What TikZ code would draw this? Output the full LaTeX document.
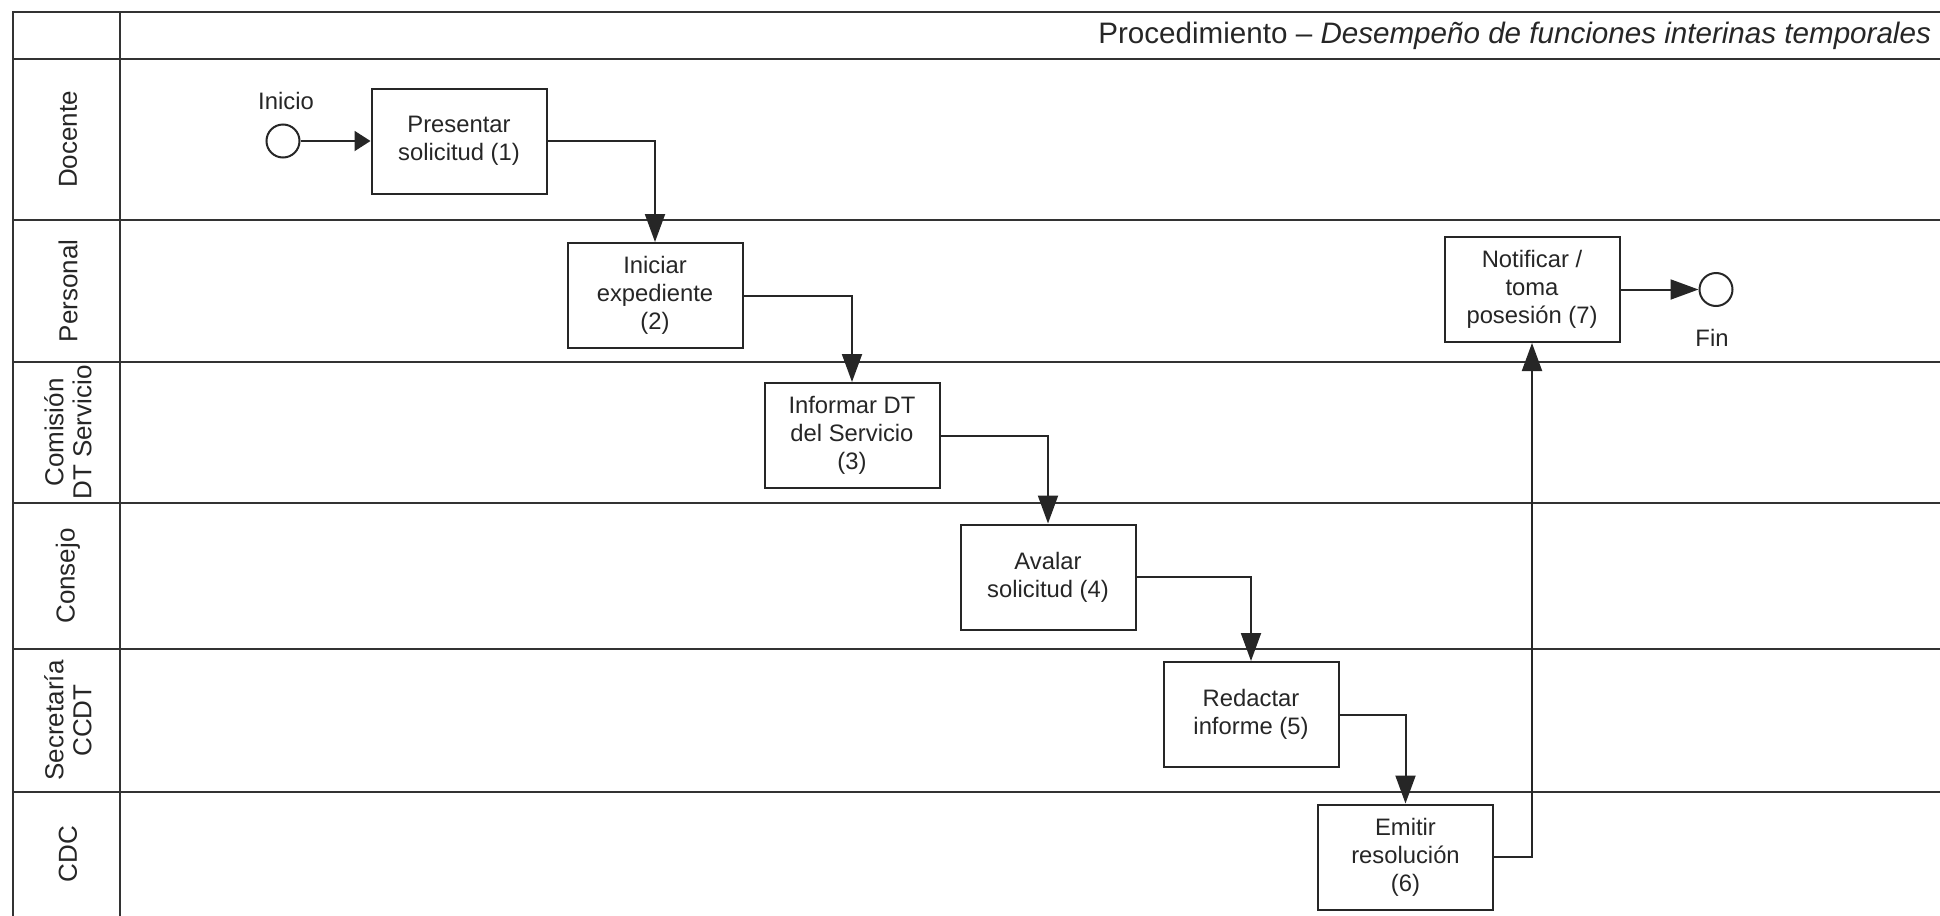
\documentclass[tikz,border=0pt]{standalone}
\usepackage{fontspec}
\setmainfont{Liberation Sans}
\usetikzlibrary{positioning,arrows.meta}

\tikzset{
  lane/.style={draw=black!80, line width=1pt},
  task/.style={draw=black!85, line width=1pt, rectangle, minimum width=87.5pt,
    minimum height=52.5pt, align=center, inner sep=0pt},
  event/.style={draw=black!85, line width=1pt, circle, minimum size=16.5pt, inner sep=0pt},
  flow/.style={draw=black!85, line width=1pt, -{Triangle[length=14pt,width=10pt]}},
  lanelbl/.style={rotate=90, align=center, font=\fontsize{13}{14}\selectfont},
}

\begin{document}
\begin{tikzpicture}[x=0.5pt, y=-0.5pt, text=black!85, font=\fontsize{11.9}{14}\selectfont]
    \useasboundingbox (0,0) rectangle (1940,916);
    \clip (0,0) rectangle (1940,916);
      % Pool and lanes
      \draw[lane] (1950,12) -- (13,12) -- (13,930);
      \draw[lane] (120,12) -- (120,930);
      \draw[lane, line width=1.3pt] (13,59) -- (1950,59);
      \foreach \y in {220,362,503,649,792}
        \draw[lane] (13,\y) -- (1950,\y);
      \node[anchor=east, font=\fontsize{14.8}{17}\selectfont] (titulo) at (1938,35.5)
        {Procedimiento – \textit{Desempeño de funciones interinas temporales}};
      \foreach \ymid/\txt [count=\i] in {139.5/Docente, 291/Personal,
          432.5/{Comisión\\DT Servicio}, 576/Consejo, 720.5/{Secretaría\\CCDT}, 854/CDC}
        \node[lanelbl] (carril\i) at (68,\ymid) {\txt};
      % Define nodes
      \node[task]                 (presentar) at (459,141)    {Presentar\\solicitud (1)};
      \node[event, left=35pt of presentar] (inicio) {};
      \node                       (txtinicio) at (286,101)    {Inicio};
      \node[task]                 (iniciar)   at (655,295.5)  {Iniciar\\expediente\\(2)};
      \node[task]                 (informar)  at (852,435.5)  {Informar DT\\del Servicio\\(3)};
      \node[task]                 (avalar)    at (1048,577)   {Avalar\\solicitud (4)};
      \node[task]                 (redactar)  at (1251,714.5) {Redactar\\informe (5)};
      \node[task]                 (emitir)    at (1405.5,857) {Emitir\\resolución\\(6)};
      \node[task]                 (notificar) at (1532,289.5) {Notificar /\\toma\\posesión (7)};
      \node[event, right=39pt of notificar] (fin) {};
      \node                       (txtfin)    at (1712,338)   {Fin};
      % Connect nodes
      \draw[flow, -{Triangle[length=8pt,width=10pt]}] (inicio) -- (presentar);
      \draw[flow] (presentar) -| (iniciar);
      \draw[flow] (iniciar) -| (informar);
      \draw[flow] (informar) -| (avalar);
      \draw[flow] (avalar) -| (redactar);
      \draw[flow] (redactar) -| (emitir);
      \draw[flow] (emitir) -| (notificar);
      \draw[flow] (notificar) -- (fin);
    \end{tikzpicture}
\end{document}
